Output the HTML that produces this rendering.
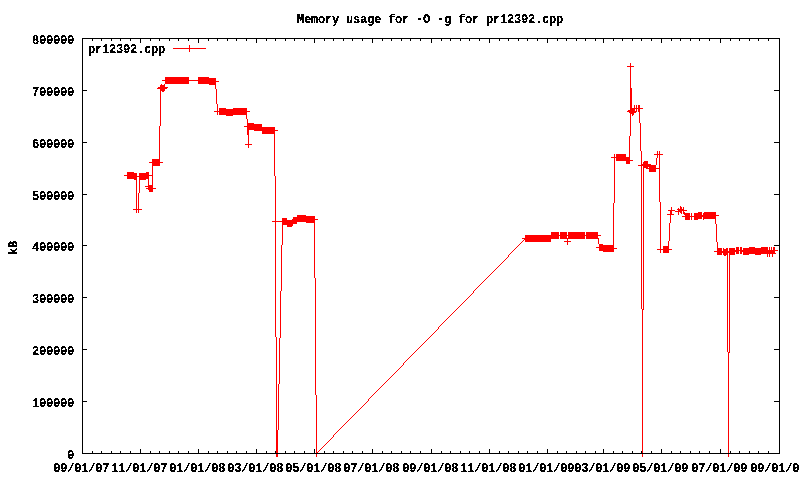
<!DOCTYPE html>
<html><head><meta charset="utf-8"><style>
html,body{margin:0;padding:0;background:#fff;}
svg{display:block;will-change:transform;}
text{font-family:"Liberation Mono",monospace;}
</style></head><body>
<svg width="800" height="480" viewBox="0 0 800 480" shape-rendering="crispEdges">
<rect width="800" height="480" fill="#fff"/>
<path d="M630 63h1v1h-1zM630 64h1v1h-1zM630 65h1v1h-1zM627 66h7v1h-7zM630 67h1v1h-1zM630 68h1v1h-1zM630 69h1v1h-1zM630 70h1v1h-1zM630 71h1v1h-1zM630 72h1v1h-1zM630 73h1v1h-1zM630 74h1v1h-1zM630 75h1v1h-1zM630 76h1v1h-1zM165 77h24v1h-24zM198 77h11v1h-11zM630 77h1v1h-1zM165 78h24v1h-24zM198 78h18v1h-18zM630 78h1v1h-1zM165 79h24v1h-24zM198 79h18v1h-18zM630 79h1v1h-1zM162 80h54v1h-54zM630 80h1v1h-1zM165 81h24v1h-24zM198 81h21v1h-21zM630 81h1v1h-1zM165 82h24v1h-24zM198 82h18v1h-18zM630 82h1v1h-1zM165 83h24v1h-24zM198 83h18v1h-18zM630 83h1v1h-1zM161 84h1v1h-1zM164 84h1v1h-1zM209 84h7v1h-7zM630 84h1v1h-1zM160 85h5v1h-5zM215 85h1v1h-1zM630 85h1v1h-1zM160 86h5v1h-5zM215 86h1v1h-1zM630 86h1v1h-1zM158 87h10v1h-10zM215 87h1v1h-1zM630 87h1v1h-1zM157 88h10v1h-10zM215 88h1v1h-1zM630 88h2v1h-2zM160 89h5v1h-5zM216 89h1v1h-1zM630 89h2v1h-2zM160 90h5v1h-5zM216 90h1v1h-1zM630 90h2v1h-2zM160 91h1v1h-1zM162 91h2v1h-2zM216 91h1v1h-1zM630 91h2v1h-2zM160 92h1v1h-1zM216 92h1v1h-1zM630 92h2v1h-2zM160 93h1v1h-1zM216 93h1v1h-1zM630 93h2v1h-2zM160 94h1v1h-1zM216 94h1v1h-1zM630 94h2v1h-2zM160 95h1v1h-1zM216 95h1v1h-1zM630 95h2v1h-2zM160 96h1v1h-1zM216 96h1v1h-1zM630 96h2v1h-2zM160 97h1v1h-1zM216 97h1v1h-1zM630 97h2v1h-2zM160 98h1v1h-1zM216 98h1v1h-1zM630 98h2v1h-2zM160 99h1v1h-1zM216 99h1v1h-1zM630 99h2v1h-2zM160 100h1v1h-1zM216 100h1v1h-1zM630 100h2v1h-2zM160 101h1v1h-1zM216 101h1v1h-1zM630 101h2v1h-2zM160 102h1v1h-1zM216 102h1v1h-1zM630 102h2v1h-2zM160 103h1v1h-1zM216 103h1v1h-1zM630 103h2v1h-2zM160 104h1v1h-1zM217 104h1v1h-1zM630 104h2v1h-2zM160 105h1v1h-1zM217 105h1v1h-1zM630 105h2v1h-2zM634 105h1v1h-1zM636 105h1v1h-1zM638 105h2v1h-2zM160 106h1v1h-1zM217 106h1v1h-1zM630 106h2v1h-2zM634 106h1v1h-1zM636 106h1v1h-1zM638 106h2v1h-2zM160 107h1v1h-1zM217 107h1v1h-1zM630 107h2v1h-2zM634 107h1v1h-1zM636 107h1v1h-1zM638 107h2v1h-2zM160 108h1v1h-1zM217 108h1v1h-1zM219 108h7v1h-7zM233 108h14v1h-14zM630 108h13v1h-13zM160 109h1v1h-1zM217 109h1v1h-1zM219 109h28v1h-28zM630 109h5v1h-5zM636 109h1v1h-1zM638 109h2v1h-2zM160 110h1v1h-1zM217 110h1v1h-1zM219 110h28v1h-28zM628 110h7v1h-7zM636 110h1v1h-1zM638 110h2v1h-2zM160 111h1v1h-1zM214 111h36v1h-36zM627 111h10v1h-10zM638 111h2v1h-2zM160 112h1v1h-1zM217 112h1v1h-1zM219 112h28v1h-28zM629 112h7v1h-7zM639 112h1v1h-1zM160 113h1v1h-1zM217 113h1v1h-1zM219 113h28v1h-28zM630 113h4v1h-4zM639 113h1v1h-1zM160 114h1v1h-1zM217 114h1v1h-1zM219 114h28v1h-28zM630 114h1v1h-1zM632 114h2v1h-2zM639 114h1v1h-1zM160 115h1v1h-1zM226 115h7v1h-7zM246 115h1v1h-1zM630 115h1v1h-1zM632 115h1v1h-1zM639 115h1v1h-1zM160 116h1v1h-1zM246 116h1v1h-1zM630 116h1v1h-1zM639 116h1v1h-1zM160 117h1v1h-1zM246 117h1v1h-1zM630 117h1v1h-1zM639 117h1v1h-1zM160 118h1v1h-1zM246 118h1v1h-1zM630 118h1v1h-1zM639 118h1v1h-1zM160 119h1v1h-1zM247 119h1v1h-1zM630 119h1v1h-1zM639 119h1v1h-1zM160 120h1v1h-1zM247 120h1v1h-1zM630 120h1v1h-1zM639 120h1v1h-1zM160 121h1v1h-1zM247 121h1v1h-1zM630 121h1v1h-1zM639 121h1v1h-1zM160 122h1v1h-1zM247 122h1v1h-1zM630 122h1v1h-1zM639 122h1v1h-1zM160 123h1v1h-1zM247 123h7v1h-7zM630 123h1v1h-1zM640 123h1v1h-1zM160 124h1v1h-1zM247 124h15v1h-15zM630 124h1v1h-1zM640 124h1v1h-1zM160 125h1v1h-1zM247 125h15v1h-15zM630 125h1v1h-1zM640 125h1v1h-1zM159 126h1v1h-1zM244 126h18v1h-18zM630 126h1v1h-1zM640 126h1v1h-1zM159 127h1v1h-1zM247 127h28v1h-28zM630 127h1v1h-1zM640 127h1v1h-1zM159 128h1v1h-1zM247 128h28v1h-28zM630 128h1v1h-1zM640 128h1v1h-1zM159 129h1v1h-1zM247 129h28v1h-28zM630 129h1v1h-1zM640 129h1v1h-1zM159 130h1v1h-1zM247 130h2v1h-2zM254 130h24v1h-24zM630 130h1v1h-1zM640 130h1v1h-1zM159 131h1v1h-1zM247 131h2v1h-2zM262 131h13v1h-13zM630 131h1v1h-1zM640 131h1v1h-1zM159 132h1v1h-1zM247 132h2v1h-2zM262 132h13v1h-13zM630 132h1v1h-1zM640 132h1v1h-1zM159 133h1v1h-1zM247 133h2v1h-2zM262 133h13v1h-13zM630 133h1v1h-1zM640 133h1v1h-1zM159 134h1v1h-1zM247 134h2v1h-2zM274 134h1v1h-1zM630 134h1v1h-1zM640 134h1v1h-1zM159 135h1v1h-1zM248 135h1v1h-1zM274 135h1v1h-1zM630 135h1v1h-1zM640 135h1v1h-1zM159 136h1v1h-1zM248 136h1v1h-1zM274 136h1v1h-1zM629 136h1v1h-1zM640 136h1v1h-1zM159 137h1v1h-1zM248 137h1v1h-1zM274 137h1v1h-1zM629 137h1v1h-1zM640 137h1v1h-1zM159 138h1v1h-1zM248 138h1v1h-1zM274 138h1v1h-1zM629 138h1v1h-1zM640 138h1v1h-1zM159 139h1v1h-1zM248 139h1v1h-1zM274 139h1v1h-1zM629 139h1v1h-1zM640 139h1v1h-1zM159 140h1v1h-1zM248 140h1v1h-1zM274 140h1v1h-1zM629 140h1v1h-1zM640 140h1v1h-1zM159 141h1v1h-1zM248 141h1v1h-1zM274 141h1v1h-1zM629 141h1v1h-1zM640 141h1v1h-1zM159 142h1v1h-1zM248 142h1v1h-1zM274 142h1v1h-1zM629 142h1v1h-1zM640 142h1v1h-1zM159 143h1v1h-1zM248 143h1v1h-1zM274 143h1v1h-1zM629 143h1v1h-1zM640 143h1v1h-1zM159 144h1v1h-1zM245 144h7v1h-7zM274 144h1v1h-1zM629 144h1v1h-1zM640 144h1v1h-1zM159 145h1v1h-1zM248 145h1v1h-1zM274 145h1v1h-1zM629 145h1v1h-1zM640 145h1v1h-1zM159 146h1v1h-1zM248 146h1v1h-1zM274 146h1v1h-1zM629 146h1v1h-1zM640 146h1v1h-1zM159 147h1v1h-1zM248 147h1v1h-1zM274 147h1v1h-1zM629 147h1v1h-1zM640 147h1v1h-1zM159 148h1v1h-1zM274 148h1v1h-1zM629 148h1v1h-1zM640 148h1v1h-1zM159 149h1v1h-1zM274 149h1v1h-1zM629 149h1v1h-1zM640 149h1v1h-1zM159 150h1v1h-1zM274 150h1v1h-1zM629 150h1v1h-1zM640 150h1v1h-1zM159 151h1v1h-1zM274 151h1v1h-1zM629 151h1v1h-1zM641 151h1v1h-1zM657 151h1v1h-1zM659 151h1v1h-1zM159 152h1v1h-1zM274 152h1v1h-1zM629 152h1v1h-1zM641 152h1v1h-1zM657 152h1v1h-1zM659 152h1v1h-1zM159 153h1v1h-1zM274 153h1v1h-1zM629 153h1v1h-1zM641 153h1v1h-1zM657 153h1v1h-1zM659 153h1v1h-1zM159 154h1v1h-1zM274 154h1v1h-1zM614 154h1v1h-1zM616 154h10v1h-10zM629 154h1v1h-1zM641 154h1v1h-1zM654 154h9v1h-9zM159 155h1v1h-1zM274 155h1v1h-1zM614 155h1v1h-1zM616 155h10v1h-10zM629 155h1v1h-1zM641 155h1v1h-1zM657 155h1v1h-1zM659 155h1v1h-1zM159 156h1v1h-1zM274 156h1v1h-1zM614 156h1v1h-1zM616 156h10v1h-10zM629 156h1v1h-1zM641 156h1v1h-1zM657 156h1v1h-1zM659 156h1v1h-1zM159 157h1v1h-1zM274 157h1v1h-1zM611 157h19v1h-19zM641 157h1v1h-1zM657 157h1v1h-1zM659 157h1v1h-1zM159 158h1v1h-1zM274 158h1v1h-1zM614 158h1v1h-1zM616 158h14v1h-14zM641 158h1v1h-1zM656 158h1v1h-1zM659 158h1v1h-1zM152 159h8v1h-8zM274 159h1v1h-1zM614 159h1v1h-1zM616 159h14v1h-14zM641 159h1v1h-1zM656 159h1v1h-1zM659 159h1v1h-1zM152 160h8v1h-8zM274 160h1v1h-1zM614 160h1v1h-1zM616 160h17v1h-17zM641 160h1v1h-1zM656 160h1v1h-1zM659 160h1v1h-1zM152 161h8v1h-8zM274 161h1v1h-1zM614 161h1v1h-1zM626 161h4v1h-4zM641 161h1v1h-1zM644 161h4v1h-4zM656 161h1v1h-1zM659 161h1v1h-1zM149 162h14v1h-14zM274 162h1v1h-1zM614 162h1v1h-1zM626 162h4v1h-4zM641 162h1v1h-1zM643 162h5v1h-5zM656 162h1v1h-1zM659 162h1v1h-1zM152 163h8v1h-8zM274 163h1v1h-1zM614 163h1v1h-1zM626 163h4v1h-4zM641 163h1v1h-1zM643 163h5v1h-5zM656 163h1v1h-1zM659 163h1v1h-1zM152 164h8v1h-8zM274 164h1v1h-1zM614 164h1v1h-1zM641 164h10v1h-10zM656 164h1v1h-1zM659 164h1v1h-1zM152 165h8v1h-8zM274 165h1v1h-1zM614 165h1v1h-1zM638 165h18v1h-18zM659 165h1v1h-1zM152 166h1v1h-1zM274 166h1v1h-1zM614 166h1v1h-1zM641 166h1v1h-1zM643 166h13v1h-13zM659 166h1v1h-1zM152 167h1v1h-1zM274 167h1v1h-1zM614 167h1v1h-1zM641 167h1v1h-1zM643 167h5v1h-5zM649 167h7v1h-7zM659 167h1v1h-1zM152 168h1v1h-1zM274 168h1v1h-1zM614 168h1v1h-1zM641 168h1v1h-1zM643 168h1v1h-1zM646 168h14v1h-14zM152 169h1v1h-1zM274 169h1v1h-1zM614 169h1v1h-1zM641 169h1v1h-1zM643 169h1v1h-1zM649 169h7v1h-7zM659 169h1v1h-1zM152 170h1v1h-1zM274 170h1v1h-1zM614 170h1v1h-1zM641 170h1v1h-1zM643 170h1v1h-1zM649 170h7v1h-7zM659 170h1v1h-1zM152 171h1v1h-1zM274 171h1v1h-1zM614 171h1v1h-1zM641 171h1v1h-1zM643 171h1v1h-1zM649 171h7v1h-7zM659 171h1v1h-1zM127 172h7v1h-7zM146 172h3v1h-3zM152 172h1v1h-1zM274 172h1v1h-1zM614 172h1v1h-1zM641 172h1v1h-1zM643 172h1v1h-1zM659 172h1v1h-1zM127 173h10v1h-10zM139 173h10v1h-10zM152 173h1v1h-1zM274 173h1v1h-1zM614 173h1v1h-1zM641 173h1v1h-1zM643 173h1v1h-1zM659 173h1v1h-1zM127 174h10v1h-10zM139 174h10v1h-10zM152 174h1v1h-1zM274 174h1v1h-1zM614 174h1v1h-1zM641 174h1v1h-1zM643 174h1v1h-1zM659 174h1v1h-1zM124 175h13v1h-13zM139 175h14v1h-14zM274 175h1v1h-1zM614 175h1v1h-1zM641 175h1v1h-1zM643 175h1v1h-1zM659 175h1v1h-1zM127 176h22v1h-22zM152 176h1v1h-1zM275 176h1v1h-1zM614 176h1v1h-1zM641 176h1v1h-1zM643 176h1v1h-1zM659 176h1v1h-1zM127 177h10v1h-10zM139 177h10v1h-10zM152 177h1v1h-1zM275 177h1v1h-1zM614 177h1v1h-1zM641 177h1v1h-1zM643 177h1v1h-1zM659 177h1v1h-1zM127 178h10v1h-10zM139 178h10v1h-10zM152 178h1v1h-1zM275 178h1v1h-1zM614 178h1v1h-1zM641 178h1v1h-1zM643 178h1v1h-1zM659 178h1v1h-1zM134 179h3v1h-3zM139 179h7v1h-7zM148 179h1v1h-1zM152 179h1v1h-1zM275 179h1v1h-1zM614 179h1v1h-1zM641 179h1v1h-1zM643 179h1v1h-1zM659 179h1v1h-1zM136 180h1v1h-1zM139 180h1v1h-1zM148 180h1v1h-1zM152 180h1v1h-1zM275 180h1v1h-1zM614 180h1v1h-1zM641 180h1v1h-1zM643 180h1v1h-1zM659 180h1v1h-1zM136 181h1v1h-1zM139 181h1v1h-1zM148 181h1v1h-1zM152 181h1v1h-1zM275 181h1v1h-1zM614 181h1v1h-1zM641 181h1v1h-1zM643 181h1v1h-1zM659 181h1v1h-1zM136 182h1v1h-1zM139 182h1v1h-1zM148 182h1v1h-1zM152 182h1v1h-1zM275 182h1v1h-1zM614 182h1v1h-1zM641 182h1v1h-1zM643 182h1v1h-1zM659 182h1v1h-1zM136 183h1v1h-1zM139 183h1v1h-1zM148 183h1v1h-1zM152 183h1v1h-1zM275 183h1v1h-1zM614 183h1v1h-1zM641 183h1v1h-1zM643 183h1v1h-1zM659 183h1v1h-1zM136 184h1v1h-1zM139 184h1v1h-1zM148 184h1v1h-1zM152 184h1v1h-1zM275 184h1v1h-1zM614 184h1v1h-1zM641 184h1v1h-1zM643 184h1v1h-1zM659 184h1v1h-1zM136 185h1v1h-1zM139 185h1v1h-1zM148 185h5v1h-5zM275 185h1v1h-1zM614 185h1v1h-1zM641 185h1v1h-1zM643 185h1v1h-1zM659 185h1v1h-1zM136 186h1v1h-1zM139 186h1v1h-1zM145 186h8v1h-8zM275 186h1v1h-1zM614 186h1v1h-1zM641 186h1v1h-1zM643 186h1v1h-1zM659 186h1v1h-1zM136 187h1v1h-1zM139 187h1v1h-1zM148 187h5v1h-5zM275 187h1v1h-1zM614 187h1v1h-1zM641 187h1v1h-1zM643 187h1v1h-1zM659 187h1v1h-1zM136 188h1v1h-1zM139 188h1v1h-1zM146 188h10v1h-10zM275 188h1v1h-1zM614 188h1v1h-1zM641 188h1v1h-1zM643 188h1v1h-1zM659 188h1v1h-1zM136 189h1v1h-1zM139 189h1v1h-1zM148 189h5v1h-5zM275 189h1v1h-1zM614 189h1v1h-1zM641 189h1v1h-1zM643 189h1v1h-1zM659 189h1v1h-1zM136 190h1v1h-1zM139 190h1v1h-1zM149 190h4v1h-4zM275 190h1v1h-1zM614 190h1v1h-1zM641 190h1v1h-1zM643 190h1v1h-1zM659 190h1v1h-1zM136 191h1v1h-1zM139 191h1v1h-1zM149 191h4v1h-4zM275 191h1v1h-1zM614 191h1v1h-1zM641 191h1v1h-1zM643 191h1v1h-1zM659 191h1v1h-1zM136 192h1v1h-1zM139 192h1v1h-1zM275 192h1v1h-1zM614 192h1v1h-1zM641 192h1v1h-1zM643 192h1v1h-1zM659 192h1v1h-1zM136 193h1v1h-1zM138 193h1v1h-1zM275 193h1v1h-1zM614 193h1v1h-1zM641 193h1v1h-1zM643 193h1v1h-1zM659 193h1v1h-1zM136 194h1v1h-1zM138 194h1v1h-1zM275 194h1v1h-1zM614 194h1v1h-1zM641 194h1v1h-1zM643 194h1v1h-1zM659 194h1v1h-1zM136 195h1v1h-1zM138 195h1v1h-1zM275 195h1v1h-1zM614 195h1v1h-1zM641 195h1v1h-1zM643 195h1v1h-1zM659 195h1v1h-1zM136 196h1v1h-1zM138 196h1v1h-1zM275 196h1v1h-1zM614 196h1v1h-1zM641 196h1v1h-1zM643 196h1v1h-1zM659 196h1v1h-1zM136 197h1v1h-1zM138 197h1v1h-1zM275 197h1v1h-1zM614 197h1v1h-1zM641 197h1v1h-1zM643 197h1v1h-1zM659 197h1v1h-1zM136 198h1v1h-1zM138 198h1v1h-1zM275 198h1v1h-1zM614 198h1v1h-1zM641 198h1v1h-1zM643 198h1v1h-1zM659 198h1v1h-1zM136 199h1v1h-1zM138 199h1v1h-1zM275 199h1v1h-1zM614 199h1v1h-1zM641 199h1v1h-1zM643 199h1v1h-1zM659 199h1v1h-1zM136 200h1v1h-1zM138 200h1v1h-1zM275 200h1v1h-1zM614 200h1v1h-1zM641 200h1v1h-1zM643 200h1v1h-1zM659 200h1v1h-1zM136 201h1v1h-1zM138 201h1v1h-1zM275 201h1v1h-1zM614 201h1v1h-1zM641 201h1v1h-1zM643 201h1v1h-1zM659 201h1v1h-1zM136 202h1v1h-1zM138 202h1v1h-1zM275 202h1v1h-1zM614 202h1v1h-1zM641 202h1v1h-1zM643 202h1v1h-1zM660 202h1v1h-1zM136 203h1v1h-1zM138 203h1v1h-1zM275 203h1v1h-1zM613 203h1v1h-1zM641 203h1v1h-1zM643 203h1v1h-1zM660 203h1v1h-1zM136 204h1v1h-1zM138 204h1v1h-1zM275 204h1v1h-1zM613 204h1v1h-1zM641 204h1v1h-1zM643 204h1v1h-1zM660 204h1v1h-1zM136 205h1v1h-1zM138 205h1v1h-1zM275 205h1v1h-1zM613 205h1v1h-1zM641 205h1v1h-1zM643 205h1v1h-1zM660 205h1v1h-1zM136 206h1v1h-1zM138 206h1v1h-1zM275 206h1v1h-1zM613 206h1v1h-1zM641 206h1v1h-1zM643 206h1v1h-1zM660 206h1v1h-1zM680 206h1v1h-1zM136 207h1v1h-1zM138 207h1v1h-1zM275 207h1v1h-1zM613 207h1v1h-1zM641 207h1v1h-1zM643 207h1v1h-1zM660 207h1v1h-1zM671 207h1v1h-1zM680 207h2v1h-2zM683 207h1v1h-1zM136 208h1v1h-1zM138 208h1v1h-1zM275 208h1v1h-1zM613 208h1v1h-1zM641 208h1v1h-1zM643 208h1v1h-1zM660 208h1v1h-1zM671 208h1v1h-1zM678 208h1v1h-1zM680 208h2v1h-2zM683 208h1v1h-1zM133 209h9v1h-9zM275 209h1v1h-1zM613 209h1v1h-1zM641 209h1v1h-1zM643 209h1v1h-1zM660 209h1v1h-1zM671 209h1v1h-1zM677 209h7v1h-7zM136 210h1v1h-1zM138 210h1v1h-1zM275 210h1v1h-1zM613 210h1v1h-1zM641 210h1v1h-1zM643 210h1v1h-1zM660 210h1v1h-1zM668 210h7v1h-7zM678 210h9v1h-9zM136 211h1v1h-1zM138 211h1v1h-1zM275 211h1v1h-1zM613 211h1v1h-1zM641 211h1v1h-1zM643 211h1v1h-1zM660 211h1v1h-1zM670 211h2v1h-2zM675 211h7v1h-7zM683 211h1v1h-1zM136 212h1v1h-1zM138 212h1v1h-1zM275 212h1v1h-1zM613 212h1v1h-1zM641 212h1v1h-1zM643 212h1v1h-1zM660 212h1v1h-1zM670 212h2v1h-2zM678 212h1v1h-1zM680 212h2v1h-2zM683 212h2v1h-2zM698 212h4v1h-4zM704 212h12v1h-12zM275 213h1v1h-1zM613 213h1v1h-1zM641 213h1v1h-1zM643 213h1v1h-1zM660 213h1v1h-1zM670 213h2v1h-2zM678 213h1v1h-1zM681 213h1v1h-1zM683 213h7v1h-7zM691 213h1v1h-1zM694 213h8v1h-8zM703 213h13v1h-13zM275 214h1v1h-1zM613 214h1v1h-1zM641 214h1v1h-1zM643 214h1v1h-1zM660 214h1v1h-1zM667 214h7v1h-7zM678 214h1v1h-1zM684 214h6v1h-6zM691 214h1v1h-1zM694 214h8v1h-8zM703 214h13v1h-13zM275 215h1v1h-1zM297 215h9v1h-9zM613 215h1v1h-1zM641 215h1v1h-1zM643 215h1v1h-1zM660 215h1v1h-1zM670 215h1v1h-1zM685 215h5v1h-5zM691 215h1v1h-1zM694 215h25v1h-25zM275 216h1v1h-1zM297 216h18v1h-18zM613 216h1v1h-1zM641 216h1v1h-1zM643 216h1v1h-1zM660 216h1v1h-1zM670 216h1v1h-1zM682 216h34v1h-34zM275 217h1v1h-1zM293 217h22v1h-22zM613 217h1v1h-1zM641 217h1v1h-1zM643 217h1v1h-1zM660 217h1v1h-1zM670 217h1v1h-1zM685 217h5v1h-5zM691 217h1v1h-1zM694 217h8v1h-8zM703 217h13v1h-13zM275 218h1v1h-1zM282 218h5v1h-5zM293 218h22v1h-22zM613 218h1v1h-1zM641 218h1v1h-1zM643 218h1v1h-1zM660 218h1v1h-1zM670 218h1v1h-1zM685 218h5v1h-5zM691 218h1v1h-1zM694 218h8v1h-8zM703 218h13v1h-13zM275 219h1v1h-1zM282 219h5v1h-5zM292 219h26v1h-26zM613 219h1v1h-1zM641 219h1v1h-1zM643 219h1v1h-1zM660 219h1v1h-1zM670 219h1v1h-1zM685 219h5v1h-5zM691 219h1v1h-1zM694 219h4v1h-4zM703 219h1v1h-1zM715 219h1v1h-1zM275 220h1v1h-1zM282 220h33v1h-33zM613 220h1v1h-1zM641 220h1v1h-1zM643 220h1v1h-1zM660 220h1v1h-1zM670 220h1v1h-1zM715 220h1v1h-1zM272 221h43v1h-43zM613 221h1v1h-1zM641 221h1v1h-1zM643 221h1v1h-1zM660 221h1v1h-1zM670 221h1v1h-1zM715 221h1v1h-1zM275 222h1v1h-1zM282 222h15v1h-15zM306 222h9v1h-9zM613 222h1v1h-1zM641 222h1v1h-1zM643 222h1v1h-1zM660 222h1v1h-1zM670 222h1v1h-1zM715 222h1v1h-1zM275 223h1v1h-1zM282 223h15v1h-15zM314 223h1v1h-1zM613 223h1v1h-1zM641 223h1v1h-1zM643 223h1v1h-1zM660 223h1v1h-1zM669 223h1v1h-1zM715 223h1v1h-1zM275 224h1v1h-1zM282 224h11v1h-11zM314 224h1v1h-1zM613 224h1v1h-1zM641 224h1v1h-1zM643 224h1v1h-1zM660 224h1v1h-1zM669 224h1v1h-1zM716 224h1v1h-1zM275 225h1v1h-1zM282 225h1v1h-1zM287 225h6v1h-6zM314 225h1v1h-1zM613 225h1v1h-1zM641 225h1v1h-1zM643 225h1v1h-1zM660 225h1v1h-1zM669 225h1v1h-1zM716 225h1v1h-1zM275 226h1v1h-1zM282 226h1v1h-1zM287 226h5v1h-5zM314 226h1v1h-1zM613 226h1v1h-1zM641 226h1v1h-1zM643 226h1v1h-1zM660 226h1v1h-1zM669 226h1v1h-1zM716 226h1v1h-1zM275 227h1v1h-1zM282 227h1v1h-1zM314 227h1v1h-1zM613 227h1v1h-1zM641 227h1v1h-1zM643 227h1v1h-1zM660 227h1v1h-1zM669 227h1v1h-1zM716 227h1v1h-1zM275 228h1v1h-1zM282 228h1v1h-1zM314 228h1v1h-1zM613 228h1v1h-1zM641 228h1v1h-1zM643 228h1v1h-1zM660 228h1v1h-1zM669 228h1v1h-1zM716 228h1v1h-1zM275 229h1v1h-1zM282 229h1v1h-1zM314 229h1v1h-1zM613 229h1v1h-1zM641 229h1v1h-1zM643 229h1v1h-1zM660 229h1v1h-1zM669 229h1v1h-1zM716 229h1v1h-1zM275 230h1v1h-1zM282 230h1v1h-1zM314 230h1v1h-1zM613 230h1v1h-1zM641 230h1v1h-1zM643 230h1v1h-1zM660 230h1v1h-1zM669 230h1v1h-1zM716 230h1v1h-1zM275 231h1v1h-1zM282 231h1v1h-1zM314 231h1v1h-1zM613 231h1v1h-1zM641 231h1v1h-1zM643 231h1v1h-1zM660 231h1v1h-1zM669 231h1v1h-1zM716 231h1v1h-1zM275 232h1v1h-1zM282 232h1v1h-1zM314 232h1v1h-1zM551 232h8v1h-8zM560 232h7v1h-7zM568 232h17v1h-17zM586 232h12v1h-12zM613 232h1v1h-1zM641 232h1v1h-1zM643 232h1v1h-1zM660 232h1v1h-1zM669 232h1v1h-1zM716 232h1v1h-1zM275 233h1v1h-1zM282 233h1v1h-1zM314 233h1v1h-1zM551 233h8v1h-8zM560 233h7v1h-7zM568 233h17v1h-17zM586 233h12v1h-12zM613 233h1v1h-1zM641 233h1v1h-1zM643 233h1v1h-1zM660 233h1v1h-1zM669 233h1v1h-1zM716 233h1v1h-1zM275 234h1v1h-1zM282 234h1v1h-1zM314 234h1v1h-1zM551 234h8v1h-8zM560 234h7v1h-7zM568 234h17v1h-17zM586 234h12v1h-12zM613 234h1v1h-1zM641 234h1v1h-1zM643 234h1v1h-1zM660 234h1v1h-1zM669 234h1v1h-1zM716 234h1v1h-1zM275 235h1v1h-1zM282 235h1v1h-1zM314 235h1v1h-1zM525 235h76v1h-76zM613 235h1v1h-1zM641 235h1v1h-1zM643 235h1v1h-1zM660 235h1v1h-1zM669 235h1v1h-1zM716 235h1v1h-1zM275 236h1v1h-1zM282 236h1v1h-1zM314 236h1v1h-1zM525 236h34v1h-34zM560 236h7v1h-7zM568 236h17v1h-17zM586 236h12v1h-12zM613 236h1v1h-1zM641 236h1v1h-1zM643 236h1v1h-1zM660 236h1v1h-1zM669 236h1v1h-1zM716 236h1v1h-1zM275 237h1v1h-1zM282 237h1v1h-1zM314 237h1v1h-1zM525 237h34v1h-34zM560 237h7v1h-7zM568 237h17v1h-17zM586 237h12v1h-12zM613 237h1v1h-1zM641 237h1v1h-1zM643 237h1v1h-1zM660 237h1v1h-1zM669 237h1v1h-1zM716 237h1v1h-1zM275 238h1v1h-1zM282 238h1v1h-1zM314 238h1v1h-1zM522 238h37v1h-37zM560 238h25v1h-25zM586 238h13v1h-13zM613 238h1v1h-1zM641 238h1v1h-1zM643 238h1v1h-1zM660 238h1v1h-1zM669 238h1v1h-1zM716 238h1v1h-1zM275 239h1v1h-1zM282 239h1v1h-1zM314 239h1v1h-1zM524 239h27v1h-27zM567 239h1v1h-1zM598 239h1v1h-1zM613 239h1v1h-1zM641 239h1v1h-1zM643 239h1v1h-1zM660 239h1v1h-1zM669 239h1v1h-1zM716 239h1v1h-1zM275 240h1v1h-1zM282 240h1v1h-1zM314 240h1v1h-1zM523 240h1v1h-1zM525 240h26v1h-26zM567 240h1v1h-1zM598 240h1v1h-1zM613 240h1v1h-1zM641 240h1v1h-1zM643 240h1v1h-1zM660 240h1v1h-1zM669 240h1v1h-1zM716 240h1v1h-1zM275 241h1v1h-1zM282 241h1v1h-1zM314 241h1v1h-1zM522 241h1v1h-1zM525 241h26v1h-26zM564 241h7v1h-7zM598 241h1v1h-1zM613 241h1v1h-1zM641 241h1v1h-1zM643 241h1v1h-1zM660 241h1v1h-1zM668 241h1v1h-1zM716 241h1v1h-1zM275 242h1v1h-1zM282 242h1v1h-1zM314 242h1v1h-1zM521 242h1v1h-1zM567 242h1v1h-1zM598 242h1v1h-1zM613 242h1v1h-1zM641 242h1v1h-1zM643 242h1v1h-1zM660 242h1v1h-1zM668 242h1v1h-1zM717 242h1v1h-1zM275 243h1v1h-1zM282 243h1v1h-1zM314 243h1v1h-1zM520 243h1v1h-1zM567 243h1v1h-1zM598 243h1v1h-1zM613 243h1v1h-1zM641 243h1v1h-1zM643 243h1v1h-1zM660 243h1v1h-1zM668 243h1v1h-1zM717 243h1v1h-1zM275 244h1v1h-1zM282 244h1v1h-1zM314 244h1v1h-1zM519 244h1v1h-1zM567 244h1v1h-1zM599 244h4v1h-4zM613 244h1v1h-1zM641 244h1v1h-1zM643 244h1v1h-1zM660 244h1v1h-1zM668 244h1v1h-1zM717 244h1v1h-1zM275 245h1v1h-1zM281 245h1v1h-1zM314 245h1v1h-1zM518 245h1v1h-1zM599 245h15v1h-15zM641 245h1v1h-1zM643 245h1v1h-1zM660 245h1v1h-1zM668 245h1v1h-1zM717 245h1v1h-1zM275 246h1v1h-1zM281 246h1v1h-1zM314 246h1v1h-1zM517 246h1v1h-1zM599 246h15v1h-15zM641 246h1v1h-1zM643 246h1v1h-1zM660 246h1v1h-1zM663 246h6v1h-6zM717 246h1v1h-1zM275 247h1v1h-1zM281 247h1v1h-1zM314 247h1v1h-1zM516 247h1v1h-1zM596 247h18v1h-18zM641 247h1v1h-1zM643 247h1v1h-1zM660 247h1v1h-1zM663 247h6v1h-6zM717 247h1v1h-1zM736 247h3v1h-3zM740 247h2v1h-2zM749 247h6v1h-6zM761 247h7v1h-7zM769 247h1v1h-1zM771 247h1v1h-1zM773 247h2v1h-2zM275 248h1v1h-1zM281 248h1v1h-1zM314 248h1v1h-1zM515 248h1v1h-1zM599 248h18v1h-18zM641 248h1v1h-1zM643 248h1v1h-1zM660 248h1v1h-1zM663 248h6v1h-6zM717 248h5v1h-5zM723 248h1v1h-1zM726 248h2v1h-2zM729 248h6v1h-6zM736 248h3v1h-3zM740 248h2v1h-2zM743 248h25v1h-25zM769 248h1v1h-1zM771 248h1v1h-1zM773 248h2v1h-2zM275 249h1v1h-1zM281 249h1v1h-1zM314 249h1v1h-1zM514 249h1v1h-1zM599 249h15v1h-15zM641 249h1v1h-1zM643 249h1v1h-1zM657 249h15v1h-15zM717 249h5v1h-5zM723 249h5v1h-5zM729 249h6v1h-6zM736 249h3v1h-3zM740 249h2v1h-2zM743 249h25v1h-25zM769 249h1v1h-1zM771 249h1v1h-1zM773 249h2v1h-2zM275 250h1v1h-1zM281 250h1v1h-1zM314 250h1v1h-1zM513 250h1v1h-1zM599 250h15v1h-15zM641 250h1v1h-1zM643 250h1v1h-1zM660 250h1v1h-1zM663 250h6v1h-6zM717 250h5v1h-5zM723 250h5v1h-5zM729 250h49v1h-49zM275 251h1v1h-1zM281 251h1v1h-1zM314 251h1v1h-1zM512 251h1v1h-1zM603 251h11v1h-11zM641 251h1v1h-1zM643 251h1v1h-1zM660 251h1v1h-1zM663 251h6v1h-6zM714 251h25v1h-25zM740 251h35v1h-35zM275 252h1v1h-1zM281 252h1v1h-1zM314 252h1v1h-1zM511 252h1v1h-1zM641 252h1v1h-1zM643 252h1v1h-1zM660 252h1v1h-1zM663 252h6v1h-6zM717 252h18v1h-18zM736 252h3v1h-3zM740 252h2v1h-2zM743 252h32v1h-32zM275 253h1v1h-1zM281 253h1v1h-1zM314 253h1v1h-1zM510 253h1v1h-1zM641 253h1v1h-1zM643 253h1v1h-1zM717 253h5v1h-5zM723 253h5v1h-5zM729 253h6v1h-6zM736 253h3v1h-3zM740 253h2v1h-2zM743 253h33v1h-33zM275 254h1v1h-1zM281 254h1v1h-1zM314 254h1v1h-1zM509 254h1v1h-1zM641 254h1v1h-1zM643 254h1v1h-1zM717 254h5v1h-5zM723 254h5v1h-5zM729 254h6v1h-6zM743 254h6v1h-6zM755 254h6v1h-6zM767 254h1v1h-1zM769 254h1v1h-1zM772 254h1v1h-1zM275 255h1v1h-1zM281 255h1v1h-1zM314 255h1v1h-1zM508 255h1v1h-1zM641 255h1v1h-1zM643 255h1v1h-1zM724 255h2v1h-2zM727 255h1v1h-1zM729 255h1v1h-1zM767 255h1v1h-1zM769 255h1v1h-1zM772 255h1v1h-1zM275 256h1v1h-1zM281 256h1v1h-1zM314 256h1v1h-1zM508 256h1v1h-1zM641 256h1v1h-1zM643 256h1v1h-1zM727 256h1v1h-1zM729 256h1v1h-1zM767 256h1v1h-1zM769 256h1v1h-1zM772 256h1v1h-1zM275 257h1v1h-1zM281 257h1v1h-1zM314 257h1v1h-1zM507 257h1v1h-1zM641 257h1v1h-1zM643 257h1v1h-1zM727 257h1v1h-1zM729 257h1v1h-1zM275 258h1v1h-1zM281 258h1v1h-1zM314 258h1v1h-1zM506 258h1v1h-1zM641 258h1v1h-1zM643 258h1v1h-1zM727 258h1v1h-1zM729 258h1v1h-1zM275 259h1v1h-1zM281 259h1v1h-1zM314 259h1v1h-1zM505 259h1v1h-1zM641 259h1v1h-1zM643 259h1v1h-1zM727 259h1v1h-1zM729 259h1v1h-1zM275 260h1v1h-1zM281 260h1v1h-1zM314 260h1v1h-1zM504 260h1v1h-1zM641 260h1v1h-1zM643 260h1v1h-1zM727 260h1v1h-1zM729 260h1v1h-1zM275 261h1v1h-1zM281 261h1v1h-1zM314 261h1v1h-1zM503 261h1v1h-1zM641 261h1v1h-1zM643 261h1v1h-1zM727 261h1v1h-1zM729 261h1v1h-1zM275 262h1v1h-1zM281 262h1v1h-1zM314 262h1v1h-1zM502 262h1v1h-1zM641 262h1v1h-1zM643 262h1v1h-1zM727 262h1v1h-1zM729 262h1v1h-1zM275 263h1v1h-1zM281 263h1v1h-1zM314 263h1v1h-1zM501 263h1v1h-1zM641 263h1v1h-1zM643 263h1v1h-1zM727 263h1v1h-1zM729 263h1v1h-1zM275 264h1v1h-1zM281 264h1v1h-1zM314 264h1v1h-1zM500 264h1v1h-1zM641 264h1v1h-1zM643 264h1v1h-1zM727 264h1v1h-1zM729 264h1v1h-1zM275 265h1v1h-1zM281 265h1v1h-1zM314 265h1v1h-1zM499 265h1v1h-1zM641 265h1v1h-1zM643 265h1v1h-1zM727 265h1v1h-1zM729 265h1v1h-1zM275 266h1v1h-1zM281 266h1v1h-1zM314 266h1v1h-1zM498 266h1v1h-1zM641 266h1v1h-1zM643 266h1v1h-1zM727 266h1v1h-1zM729 266h1v1h-1zM275 267h1v1h-1zM281 267h1v1h-1zM314 267h1v1h-1zM497 267h1v1h-1zM641 267h1v1h-1zM643 267h1v1h-1zM727 267h1v1h-1zM729 267h1v1h-1zM275 268h1v1h-1zM281 268h1v1h-1zM314 268h1v1h-1zM496 268h1v1h-1zM641 268h1v1h-1zM643 268h1v1h-1zM727 268h1v1h-1zM729 268h1v1h-1zM275 269h1v1h-1zM281 269h1v1h-1zM314 269h1v1h-1zM495 269h1v1h-1zM641 269h1v1h-1zM643 269h1v1h-1zM727 269h1v1h-1zM729 269h1v1h-1zM275 270h1v1h-1zM281 270h1v1h-1zM314 270h1v1h-1zM494 270h1v1h-1zM641 270h1v1h-1zM643 270h1v1h-1zM727 270h1v1h-1zM729 270h1v1h-1zM275 271h1v1h-1zM281 271h1v1h-1zM314 271h1v1h-1zM493 271h1v1h-1zM641 271h1v1h-1zM643 271h1v1h-1zM727 271h1v1h-1zM729 271h1v1h-1zM275 272h1v1h-1zM281 272h1v1h-1zM314 272h1v1h-1zM492 272h1v1h-1zM641 272h1v1h-1zM643 272h1v1h-1zM727 272h1v1h-1zM729 272h1v1h-1zM275 273h1v1h-1zM281 273h1v1h-1zM314 273h1v1h-1zM491 273h1v1h-1zM641 273h1v1h-1zM643 273h1v1h-1zM727 273h1v1h-1zM729 273h1v1h-1zM275 274h1v1h-1zM281 274h1v1h-1zM314 274h1v1h-1zM490 274h1v1h-1zM641 274h1v1h-1zM643 274h1v1h-1zM727 274h1v1h-1zM729 274h1v1h-1zM275 275h1v1h-1zM281 275h1v1h-1zM314 275h1v1h-1zM489 275h1v1h-1zM641 275h1v1h-1zM643 275h1v1h-1zM727 275h1v1h-1zM729 275h1v1h-1zM275 276h1v1h-1zM281 276h1v1h-1zM314 276h1v1h-1zM488 276h1v1h-1zM641 276h1v1h-1zM643 276h1v1h-1zM727 276h1v1h-1zM729 276h1v1h-1zM275 277h1v1h-1zM281 277h1v1h-1zM314 277h1v1h-1zM487 277h1v1h-1zM641 277h1v1h-1zM643 277h1v1h-1zM727 277h1v1h-1zM729 277h1v1h-1zM275 278h1v1h-1zM281 278h1v1h-1zM315 278h1v1h-1zM486 278h1v1h-1zM641 278h1v1h-1zM643 278h1v1h-1zM727 278h1v1h-1zM729 278h1v1h-1zM275 279h1v1h-1zM281 279h1v1h-1zM315 279h1v1h-1zM485 279h1v1h-1zM641 279h1v1h-1zM643 279h1v1h-1zM727 279h1v1h-1zM729 279h1v1h-1zM275 280h1v1h-1zM281 280h1v1h-1zM315 280h1v1h-1zM484 280h1v1h-1zM641 280h1v1h-1zM643 280h1v1h-1zM727 280h1v1h-1zM729 280h1v1h-1zM275 281h1v1h-1zM281 281h1v1h-1zM315 281h1v1h-1zM483 281h1v1h-1zM641 281h1v1h-1zM643 281h1v1h-1zM727 281h1v1h-1zM729 281h1v1h-1zM275 282h1v1h-1zM281 282h1v1h-1zM315 282h1v1h-1zM482 282h1v1h-1zM641 282h1v1h-1zM643 282h1v1h-1zM727 282h1v1h-1zM729 282h1v1h-1zM275 283h1v1h-1zM281 283h1v1h-1zM315 283h1v1h-1zM481 283h1v1h-1zM641 283h1v1h-1zM643 283h1v1h-1zM727 283h1v1h-1zM729 283h1v1h-1zM275 284h1v1h-1zM281 284h1v1h-1zM315 284h1v1h-1zM480 284h1v1h-1zM641 284h1v1h-1zM643 284h1v1h-1zM727 284h1v1h-1zM729 284h1v1h-1zM275 285h1v1h-1zM281 285h1v1h-1zM315 285h1v1h-1zM479 285h1v1h-1zM641 285h1v1h-1zM643 285h1v1h-1zM727 285h1v1h-1zM729 285h1v1h-1zM275 286h1v1h-1zM281 286h1v1h-1zM315 286h1v1h-1zM478 286h1v1h-1zM641 286h1v1h-1zM643 286h1v1h-1zM727 286h1v1h-1zM729 286h1v1h-1zM275 287h1v1h-1zM281 287h1v1h-1zM315 287h1v1h-1zM477 287h1v1h-1zM641 287h1v1h-1zM643 287h1v1h-1zM727 287h1v1h-1zM729 287h1v1h-1zM275 288h1v1h-1zM281 288h1v1h-1zM315 288h1v1h-1zM476 288h1v1h-1zM641 288h1v1h-1zM643 288h1v1h-1zM727 288h1v1h-1zM729 288h1v1h-1zM275 289h1v1h-1zM281 289h1v1h-1zM315 289h1v1h-1zM475 289h1v1h-1zM641 289h1v1h-1zM643 289h1v1h-1zM727 289h1v1h-1zM729 289h1v1h-1zM275 290h1v1h-1zM281 290h1v1h-1zM315 290h1v1h-1zM474 290h1v1h-1zM641 290h1v1h-1zM643 290h1v1h-1zM727 290h1v1h-1zM729 290h1v1h-1zM275 291h1v1h-1zM280 291h1v1h-1zM315 291h1v1h-1zM473 291h1v1h-1zM641 291h1v1h-1zM643 291h1v1h-1zM727 291h1v1h-1zM729 291h1v1h-1zM275 292h1v1h-1zM280 292h1v1h-1zM315 292h1v1h-1zM473 292h1v1h-1zM641 292h1v1h-1zM643 292h1v1h-1zM727 292h1v1h-1zM729 292h1v1h-1zM275 293h1v1h-1zM280 293h1v1h-1zM315 293h1v1h-1zM472 293h1v1h-1zM641 293h1v1h-1zM643 293h1v1h-1zM727 293h1v1h-1zM729 293h1v1h-1zM275 294h1v1h-1zM280 294h1v1h-1zM315 294h1v1h-1zM471 294h1v1h-1zM641 294h1v1h-1zM643 294h1v1h-1zM727 294h1v1h-1zM729 294h1v1h-1zM275 295h1v1h-1zM280 295h1v1h-1zM315 295h1v1h-1zM470 295h1v1h-1zM641 295h1v1h-1zM643 295h1v1h-1zM727 295h1v1h-1zM729 295h1v1h-1zM275 296h1v1h-1zM280 296h1v1h-1zM315 296h1v1h-1zM469 296h1v1h-1zM641 296h1v1h-1zM643 296h1v1h-1zM727 296h1v1h-1zM729 296h1v1h-1zM275 297h1v1h-1zM280 297h1v1h-1zM315 297h1v1h-1zM468 297h1v1h-1zM641 297h1v1h-1zM643 297h1v1h-1zM727 297h1v1h-1zM729 297h1v1h-1zM275 298h1v1h-1zM280 298h1v1h-1zM315 298h1v1h-1zM467 298h1v1h-1zM641 298h1v1h-1zM643 298h1v1h-1zM727 298h1v1h-1zM729 298h1v1h-1zM275 299h1v1h-1zM280 299h1v1h-1zM315 299h1v1h-1zM466 299h1v1h-1zM641 299h1v1h-1zM643 299h1v1h-1zM727 299h1v1h-1zM729 299h1v1h-1zM275 300h1v1h-1zM280 300h1v1h-1zM315 300h1v1h-1zM465 300h1v1h-1zM641 300h1v1h-1zM643 300h1v1h-1zM727 300h1v1h-1zM729 300h1v1h-1zM275 301h1v1h-1zM280 301h1v1h-1zM315 301h1v1h-1zM464 301h1v1h-1zM641 301h1v1h-1zM643 301h1v1h-1zM727 301h1v1h-1zM729 301h1v1h-1zM275 302h1v1h-1zM280 302h1v1h-1zM315 302h1v1h-1zM463 302h1v1h-1zM641 302h1v1h-1zM643 302h1v1h-1zM727 302h1v1h-1zM729 302h1v1h-1zM275 303h1v1h-1zM280 303h1v1h-1zM315 303h1v1h-1zM462 303h1v1h-1zM641 303h1v1h-1zM643 303h1v1h-1zM727 303h1v1h-1zM729 303h1v1h-1zM275 304h1v1h-1zM280 304h1v1h-1zM315 304h1v1h-1zM461 304h1v1h-1zM641 304h1v1h-1zM643 304h1v1h-1zM727 304h1v1h-1zM729 304h1v1h-1zM275 305h1v1h-1zM280 305h1v1h-1zM315 305h1v1h-1zM460 305h1v1h-1zM641 305h1v1h-1zM643 305h1v1h-1zM727 305h1v1h-1zM729 305h1v1h-1zM275 306h1v1h-1zM280 306h1v1h-1zM315 306h1v1h-1zM459 306h1v1h-1zM641 306h1v1h-1zM643 306h1v1h-1zM727 306h1v1h-1zM729 306h1v1h-1zM275 307h1v1h-1zM280 307h1v1h-1zM315 307h1v1h-1zM458 307h1v1h-1zM641 307h1v1h-1zM643 307h1v1h-1zM727 307h1v1h-1zM729 307h1v1h-1zM275 308h1v1h-1zM280 308h1v1h-1zM315 308h1v1h-1zM457 308h1v1h-1zM641 308h1v1h-1zM643 308h1v1h-1zM727 308h1v1h-1zM729 308h1v1h-1zM275 309h1v1h-1zM280 309h1v1h-1zM315 309h1v1h-1zM456 309h1v1h-1zM642 309h2v1h-2zM727 309h1v1h-1zM729 309h1v1h-1zM275 310h1v1h-1zM280 310h1v1h-1zM315 310h1v1h-1zM455 310h1v1h-1zM642 310h1v1h-1zM727 310h1v1h-1zM729 310h1v1h-1zM275 311h1v1h-1zM280 311h1v1h-1zM315 311h1v1h-1zM454 311h1v1h-1zM642 311h1v1h-1zM727 311h1v1h-1zM729 311h1v1h-1zM275 312h1v1h-1zM280 312h1v1h-1zM315 312h1v1h-1zM453 312h1v1h-1zM642 312h1v1h-1zM727 312h1v1h-1zM729 312h1v1h-1zM275 313h1v1h-1zM280 313h1v1h-1zM315 313h1v1h-1zM452 313h1v1h-1zM642 313h1v1h-1zM727 313h1v1h-1zM729 313h1v1h-1zM275 314h1v1h-1zM280 314h1v1h-1zM315 314h1v1h-1zM451 314h1v1h-1zM642 314h1v1h-1zM727 314h1v1h-1zM729 314h1v1h-1zM275 315h1v1h-1zM280 315h1v1h-1zM315 315h1v1h-1zM450 315h1v1h-1zM642 315h1v1h-1zM727 315h1v1h-1zM729 315h1v1h-1zM275 316h1v1h-1zM280 316h1v1h-1zM315 316h1v1h-1zM449 316h1v1h-1zM642 316h1v1h-1zM727 316h1v1h-1zM729 316h1v1h-1zM275 317h1v1h-1zM280 317h1v1h-1zM315 317h1v1h-1zM448 317h1v1h-1zM642 317h1v1h-1zM727 317h1v1h-1zM729 317h1v1h-1zM275 318h1v1h-1zM280 318h1v1h-1zM315 318h1v1h-1zM447 318h1v1h-1zM642 318h1v1h-1zM727 318h1v1h-1zM729 318h1v1h-1zM275 319h1v1h-1zM280 319h1v1h-1zM315 319h1v1h-1zM446 319h1v1h-1zM642 319h1v1h-1zM727 319h1v1h-1zM729 319h1v1h-1zM275 320h1v1h-1zM280 320h1v1h-1zM315 320h1v1h-1zM445 320h1v1h-1zM642 320h1v1h-1zM727 320h1v1h-1zM729 320h1v1h-1zM275 321h1v1h-1zM280 321h1v1h-1zM315 321h1v1h-1zM444 321h1v1h-1zM642 321h1v1h-1zM727 321h1v1h-1zM729 321h1v1h-1zM275 322h1v1h-1zM280 322h1v1h-1zM315 322h1v1h-1zM443 322h1v1h-1zM642 322h1v1h-1zM727 322h1v1h-1zM729 322h1v1h-1zM275 323h1v1h-1zM280 323h1v1h-1zM315 323h1v1h-1zM442 323h1v1h-1zM642 323h1v1h-1zM727 323h1v1h-1zM729 323h1v1h-1zM275 324h1v1h-1zM280 324h1v1h-1zM315 324h1v1h-1zM441 324h1v1h-1zM642 324h1v1h-1zM727 324h1v1h-1zM729 324h1v1h-1zM275 325h1v1h-1zM280 325h1v1h-1zM315 325h1v1h-1zM440 325h1v1h-1zM642 325h1v1h-1zM727 325h1v1h-1zM729 325h1v1h-1zM275 326h1v1h-1zM280 326h1v1h-1zM315 326h1v1h-1zM439 326h1v1h-1zM642 326h1v1h-1zM727 326h1v1h-1zM729 326h1v1h-1zM275 327h1v1h-1zM280 327h1v1h-1zM315 327h1v1h-1zM438 327h1v1h-1zM642 327h1v1h-1zM727 327h1v1h-1zM729 327h1v1h-1zM275 328h1v1h-1zM280 328h1v1h-1zM315 328h1v1h-1zM438 328h1v1h-1zM642 328h1v1h-1zM727 328h1v1h-1zM729 328h1v1h-1zM275 329h1v1h-1zM280 329h1v1h-1zM315 329h1v1h-1zM437 329h1v1h-1zM642 329h1v1h-1zM727 329h1v1h-1zM729 329h1v1h-1zM275 330h1v1h-1zM280 330h1v1h-1zM315 330h1v1h-1zM436 330h1v1h-1zM642 330h1v1h-1zM727 330h1v1h-1zM729 330h1v1h-1zM275 331h1v1h-1zM280 331h1v1h-1zM315 331h1v1h-1zM435 331h1v1h-1zM642 331h1v1h-1zM727 331h1v1h-1zM729 331h1v1h-1zM275 332h1v1h-1zM280 332h1v1h-1zM315 332h1v1h-1zM434 332h1v1h-1zM642 332h1v1h-1zM727 332h1v1h-1zM729 332h1v1h-1zM275 333h1v1h-1zM280 333h1v1h-1zM315 333h1v1h-1zM433 333h1v1h-1zM642 333h1v1h-1zM727 333h1v1h-1zM729 333h1v1h-1zM275 334h1v1h-1zM280 334h1v1h-1zM315 334h1v1h-1zM432 334h1v1h-1zM642 334h1v1h-1zM727 334h1v1h-1zM729 334h1v1h-1zM275 335h1v1h-1zM280 335h1v1h-1zM315 335h1v1h-1zM431 335h1v1h-1zM642 335h1v1h-1zM727 335h1v1h-1zM729 335h1v1h-1zM275 336h1v1h-1zM280 336h1v1h-1zM315 336h1v1h-1zM430 336h1v1h-1zM642 336h1v1h-1zM727 336h1v1h-1zM729 336h1v1h-1zM276 337h1v1h-1zM280 337h1v1h-1zM315 337h1v1h-1zM429 337h1v1h-1zM642 337h1v1h-1zM727 337h1v1h-1zM729 337h1v1h-1zM276 338h1v1h-1zM279 338h1v1h-1zM315 338h1v1h-1zM428 338h1v1h-1zM642 338h1v1h-1zM727 338h1v1h-1zM729 338h1v1h-1zM276 339h1v1h-1zM279 339h1v1h-1zM315 339h1v1h-1zM427 339h1v1h-1zM642 339h1v1h-1zM727 339h1v1h-1zM729 339h1v1h-1zM276 340h1v1h-1zM279 340h1v1h-1zM315 340h1v1h-1zM426 340h1v1h-1zM642 340h1v1h-1zM727 340h1v1h-1zM729 340h1v1h-1zM276 341h1v1h-1zM279 341h1v1h-1zM315 341h1v1h-1zM425 341h1v1h-1zM642 341h1v1h-1zM727 341h1v1h-1zM729 341h1v1h-1zM276 342h1v1h-1zM279 342h1v1h-1zM315 342h1v1h-1zM424 342h1v1h-1zM642 342h1v1h-1zM727 342h1v1h-1zM729 342h1v1h-1zM276 343h1v1h-1zM279 343h1v1h-1zM315 343h1v1h-1zM423 343h1v1h-1zM642 343h1v1h-1zM727 343h1v1h-1zM729 343h1v1h-1zM276 344h1v1h-1zM279 344h1v1h-1zM315 344h1v1h-1zM422 344h1v1h-1zM642 344h1v1h-1zM727 344h1v1h-1zM729 344h1v1h-1zM276 345h1v1h-1zM279 345h1v1h-1zM315 345h1v1h-1zM421 345h1v1h-1zM642 345h1v1h-1zM727 345h1v1h-1zM729 345h1v1h-1zM276 346h1v1h-1zM279 346h1v1h-1zM315 346h1v1h-1zM420 346h1v1h-1zM642 346h1v1h-1zM727 346h1v1h-1zM729 346h1v1h-1zM276 347h1v1h-1zM279 347h1v1h-1zM315 347h1v1h-1zM419 347h1v1h-1zM642 347h1v1h-1zM727 347h1v1h-1zM729 347h1v1h-1zM276 348h1v1h-1zM279 348h1v1h-1zM315 348h1v1h-1zM418 348h1v1h-1zM642 348h1v1h-1zM727 348h1v1h-1zM729 348h1v1h-1zM276 349h1v1h-1zM279 349h1v1h-1zM315 349h1v1h-1zM417 349h1v1h-1zM642 349h1v1h-1zM727 349h1v1h-1zM729 349h1v1h-1zM276 350h1v1h-1zM279 350h1v1h-1zM315 350h1v1h-1zM416 350h1v1h-1zM642 350h1v1h-1zM727 350h1v1h-1zM729 350h1v1h-1zM276 351h1v1h-1zM279 351h1v1h-1zM315 351h1v1h-1zM415 351h1v1h-1zM642 351h1v1h-1zM727 351h1v1h-1zM729 351h1v1h-1zM276 352h1v1h-1zM279 352h1v1h-1zM315 352h1v1h-1zM414 352h1v1h-1zM642 352h1v1h-1zM728 352h2v1h-2zM276 353h1v1h-1zM279 353h1v1h-1zM315 353h1v1h-1zM413 353h1v1h-1zM642 353h1v1h-1zM728 353h1v1h-1zM276 354h1v1h-1zM279 354h1v1h-1zM315 354h1v1h-1zM412 354h1v1h-1zM642 354h1v1h-1zM728 354h1v1h-1zM276 355h1v1h-1zM279 355h1v1h-1zM315 355h1v1h-1zM411 355h1v1h-1zM642 355h1v1h-1zM728 355h1v1h-1zM276 356h1v1h-1zM279 356h1v1h-1zM315 356h1v1h-1zM410 356h1v1h-1zM642 356h1v1h-1zM728 356h1v1h-1zM276 357h1v1h-1zM279 357h1v1h-1zM315 357h1v1h-1zM409 357h1v1h-1zM642 357h1v1h-1zM728 357h1v1h-1zM276 358h1v1h-1zM279 358h1v1h-1zM315 358h1v1h-1zM408 358h1v1h-1zM642 358h1v1h-1zM728 358h1v1h-1zM276 359h1v1h-1zM279 359h1v1h-1zM315 359h1v1h-1zM407 359h1v1h-1zM642 359h1v1h-1zM728 359h1v1h-1zM276 360h1v1h-1zM279 360h1v1h-1zM315 360h1v1h-1zM406 360h1v1h-1zM642 360h1v1h-1zM728 360h1v1h-1zM276 361h1v1h-1zM279 361h1v1h-1zM315 361h1v1h-1zM405 361h1v1h-1zM642 361h1v1h-1zM728 361h1v1h-1zM276 362h1v1h-1zM279 362h1v1h-1zM315 362h1v1h-1zM404 362h1v1h-1zM642 362h1v1h-1zM728 362h1v1h-1zM276 363h1v1h-1zM279 363h1v1h-1zM315 363h1v1h-1zM403 363h1v1h-1zM642 363h1v1h-1zM728 363h1v1h-1zM276 364h1v1h-1zM279 364h1v1h-1zM315 364h1v1h-1zM403 364h1v1h-1zM642 364h1v1h-1zM728 364h1v1h-1zM276 365h1v1h-1zM279 365h1v1h-1zM315 365h1v1h-1zM402 365h1v1h-1zM642 365h1v1h-1zM728 365h1v1h-1zM276 366h1v1h-1zM279 366h1v1h-1zM315 366h1v1h-1zM401 366h1v1h-1zM642 366h1v1h-1zM728 366h1v1h-1zM276 367h1v1h-1zM279 367h1v1h-1zM315 367h1v1h-1zM400 367h1v1h-1zM642 367h1v1h-1zM728 367h1v1h-1zM276 368h1v1h-1zM279 368h1v1h-1zM315 368h1v1h-1zM399 368h1v1h-1zM642 368h1v1h-1zM728 368h1v1h-1zM276 369h1v1h-1zM279 369h1v1h-1zM315 369h1v1h-1zM398 369h1v1h-1zM642 369h1v1h-1zM728 369h1v1h-1zM276 370h1v1h-1zM279 370h1v1h-1zM315 370h1v1h-1zM397 370h1v1h-1zM642 370h1v1h-1zM728 370h1v1h-1zM276 371h1v1h-1zM279 371h1v1h-1zM315 371h1v1h-1zM396 371h1v1h-1zM642 371h1v1h-1zM728 371h1v1h-1zM276 372h1v1h-1zM279 372h1v1h-1zM315 372h1v1h-1zM395 372h1v1h-1zM642 372h1v1h-1zM728 372h1v1h-1zM276 373h1v1h-1zM279 373h1v1h-1zM315 373h1v1h-1zM394 373h1v1h-1zM642 373h1v1h-1zM728 373h1v1h-1zM276 374h1v1h-1zM279 374h1v1h-1zM315 374h1v1h-1zM393 374h1v1h-1zM642 374h1v1h-1zM728 374h1v1h-1zM276 375h1v1h-1zM279 375h1v1h-1zM315 375h1v1h-1zM392 375h1v1h-1zM642 375h1v1h-1zM728 375h1v1h-1zM276 376h1v1h-1zM279 376h1v1h-1zM315 376h1v1h-1zM391 376h1v1h-1zM642 376h1v1h-1zM728 376h1v1h-1zM276 377h1v1h-1zM279 377h1v1h-1zM315 377h1v1h-1zM390 377h1v1h-1zM642 377h1v1h-1zM728 377h1v1h-1zM276 378h1v1h-1zM279 378h1v1h-1zM315 378h1v1h-1zM389 378h1v1h-1zM642 378h1v1h-1zM728 378h1v1h-1zM276 379h1v1h-1zM279 379h1v1h-1zM315 379h1v1h-1zM388 379h1v1h-1zM642 379h1v1h-1zM728 379h1v1h-1zM276 380h1v1h-1zM279 380h1v1h-1zM315 380h1v1h-1zM387 380h1v1h-1zM642 380h1v1h-1zM728 380h1v1h-1zM276 381h1v1h-1zM279 381h1v1h-1zM315 381h1v1h-1zM386 381h1v1h-1zM642 381h1v1h-1zM728 381h1v1h-1zM276 382h1v1h-1zM279 382h1v1h-1zM315 382h1v1h-1zM385 382h1v1h-1zM642 382h1v1h-1zM728 382h1v1h-1zM276 383h1v1h-1zM279 383h1v1h-1zM315 383h1v1h-1zM384 383h1v1h-1zM642 383h1v1h-1zM728 383h1v1h-1zM276 384h1v1h-1zM278 384h1v1h-1zM315 384h1v1h-1zM383 384h1v1h-1zM642 384h1v1h-1zM728 384h1v1h-1zM276 385h1v1h-1zM278 385h1v1h-1zM315 385h1v1h-1zM382 385h1v1h-1zM642 385h1v1h-1zM728 385h1v1h-1zM276 386h1v1h-1zM278 386h1v1h-1zM315 386h1v1h-1zM381 386h1v1h-1zM642 386h1v1h-1zM728 386h1v1h-1zM276 387h1v1h-1zM278 387h1v1h-1zM315 387h1v1h-1zM380 387h1v1h-1zM642 387h1v1h-1zM728 387h1v1h-1zM276 388h1v1h-1zM278 388h1v1h-1zM315 388h1v1h-1zM379 388h1v1h-1zM642 388h1v1h-1zM728 388h1v1h-1zM276 389h1v1h-1zM278 389h1v1h-1zM315 389h1v1h-1zM378 389h1v1h-1zM642 389h1v1h-1zM728 389h1v1h-1zM276 390h1v1h-1zM278 390h1v1h-1zM315 390h1v1h-1zM377 390h1v1h-1zM642 390h1v1h-1zM728 390h1v1h-1zM276 391h1v1h-1zM278 391h1v1h-1zM315 391h1v1h-1zM376 391h1v1h-1zM642 391h1v1h-1zM728 391h1v1h-1zM276 392h1v1h-1zM278 392h1v1h-1zM315 392h1v1h-1zM375 392h1v1h-1zM642 392h1v1h-1zM728 392h1v1h-1zM276 393h1v1h-1zM278 393h1v1h-1zM315 393h1v1h-1zM374 393h1v1h-1zM642 393h1v1h-1zM728 393h1v1h-1zM276 394h1v1h-1zM278 394h1v1h-1zM315 394h1v1h-1zM373 394h1v1h-1zM642 394h1v1h-1zM728 394h1v1h-1zM276 395h1v1h-1zM278 395h1v1h-1zM316 395h1v1h-1zM372 395h1v1h-1zM642 395h1v1h-1zM728 395h1v1h-1zM276 396h1v1h-1zM278 396h1v1h-1zM316 396h1v1h-1zM371 396h1v1h-1zM642 396h1v1h-1zM728 396h1v1h-1zM276 397h1v1h-1zM278 397h1v1h-1zM316 397h1v1h-1zM370 397h1v1h-1zM642 397h1v1h-1zM728 397h1v1h-1zM276 398h1v1h-1zM278 398h1v1h-1zM316 398h1v1h-1zM369 398h1v1h-1zM642 398h1v1h-1zM728 398h1v1h-1zM276 399h1v1h-1zM278 399h1v1h-1zM316 399h1v1h-1zM368 399h1v1h-1zM642 399h1v1h-1zM728 399h1v1h-1zM276 400h1v1h-1zM278 400h1v1h-1zM316 400h1v1h-1zM368 400h1v1h-1zM642 400h1v1h-1zM728 400h1v1h-1zM276 401h1v1h-1zM278 401h1v1h-1zM316 401h1v1h-1zM367 401h1v1h-1zM642 401h1v1h-1zM728 401h1v1h-1zM276 402h1v1h-1zM278 402h1v1h-1zM316 402h1v1h-1zM366 402h1v1h-1zM642 402h1v1h-1zM728 402h1v1h-1zM276 403h1v1h-1zM278 403h1v1h-1zM316 403h1v1h-1zM365 403h1v1h-1zM642 403h1v1h-1zM728 403h1v1h-1zM276 404h1v1h-1zM278 404h1v1h-1zM316 404h1v1h-1zM364 404h1v1h-1zM642 404h1v1h-1zM728 404h1v1h-1zM276 405h1v1h-1zM278 405h1v1h-1zM316 405h1v1h-1zM363 405h1v1h-1zM642 405h1v1h-1zM728 405h1v1h-1zM276 406h1v1h-1zM278 406h1v1h-1zM316 406h1v1h-1zM362 406h1v1h-1zM642 406h1v1h-1zM728 406h1v1h-1zM276 407h1v1h-1zM278 407h1v1h-1zM316 407h1v1h-1zM361 407h1v1h-1zM642 407h1v1h-1zM728 407h1v1h-1zM276 408h1v1h-1zM278 408h1v1h-1zM316 408h1v1h-1zM360 408h1v1h-1zM642 408h1v1h-1zM728 408h1v1h-1zM276 409h1v1h-1zM278 409h1v1h-1zM316 409h1v1h-1zM359 409h1v1h-1zM642 409h1v1h-1zM728 409h1v1h-1zM276 410h1v1h-1zM278 410h1v1h-1zM316 410h1v1h-1zM358 410h1v1h-1zM642 410h1v1h-1zM728 410h1v1h-1zM276 411h1v1h-1zM278 411h1v1h-1zM316 411h1v1h-1zM357 411h1v1h-1zM642 411h1v1h-1zM728 411h1v1h-1zM276 412h1v1h-1zM278 412h1v1h-1zM316 412h1v1h-1zM356 412h1v1h-1zM642 412h1v1h-1zM728 412h1v1h-1zM276 413h1v1h-1zM278 413h1v1h-1zM316 413h1v1h-1zM355 413h1v1h-1zM642 413h1v1h-1zM728 413h1v1h-1zM276 414h1v1h-1zM278 414h1v1h-1zM316 414h1v1h-1zM354 414h1v1h-1zM642 414h1v1h-1zM728 414h1v1h-1zM276 415h1v1h-1zM278 415h1v1h-1zM316 415h1v1h-1zM353 415h1v1h-1zM642 415h1v1h-1zM728 415h1v1h-1zM276 416h1v1h-1zM278 416h1v1h-1zM316 416h1v1h-1zM352 416h1v1h-1zM642 416h1v1h-1zM728 416h1v1h-1zM276 417h1v1h-1zM278 417h1v1h-1zM316 417h1v1h-1zM351 417h1v1h-1zM642 417h1v1h-1zM728 417h1v1h-1zM276 418h1v1h-1zM278 418h1v1h-1zM316 418h1v1h-1zM350 418h1v1h-1zM642 418h1v1h-1zM728 418h1v1h-1zM276 419h1v1h-1zM278 419h1v1h-1zM316 419h1v1h-1zM349 419h1v1h-1zM642 419h1v1h-1zM728 419h1v1h-1zM276 420h1v1h-1zM278 420h1v1h-1zM316 420h1v1h-1zM348 420h1v1h-1zM642 420h1v1h-1zM728 420h1v1h-1zM276 421h1v1h-1zM278 421h1v1h-1zM316 421h1v1h-1zM347 421h1v1h-1zM642 421h1v1h-1zM728 421h1v1h-1zM276 422h1v1h-1zM278 422h1v1h-1zM316 422h1v1h-1zM346 422h1v1h-1zM642 422h1v1h-1zM728 422h1v1h-1zM276 423h1v1h-1zM278 423h1v1h-1zM316 423h1v1h-1zM345 423h1v1h-1zM642 423h1v1h-1zM728 423h1v1h-1zM276 424h1v1h-1zM278 424h1v1h-1zM316 424h1v1h-1zM344 424h1v1h-1zM642 424h1v1h-1zM728 424h1v1h-1zM276 425h1v1h-1zM278 425h1v1h-1zM316 425h1v1h-1zM343 425h1v1h-1zM642 425h1v1h-1zM728 425h1v1h-1zM276 426h1v1h-1zM278 426h1v1h-1zM316 426h1v1h-1zM342 426h1v1h-1zM642 426h1v1h-1zM728 426h1v1h-1zM276 427h1v1h-1zM278 427h1v1h-1zM316 427h1v1h-1zM341 427h1v1h-1zM642 427h1v1h-1zM728 427h1v1h-1zM276 428h1v1h-1zM278 428h1v1h-1zM316 428h1v1h-1zM340 428h1v1h-1zM642 428h1v1h-1zM728 428h1v1h-1zM276 429h1v1h-1zM278 429h1v1h-1zM316 429h1v1h-1zM339 429h1v1h-1zM642 429h1v1h-1zM728 429h1v1h-1zM276 430h2v1h-2zM316 430h1v1h-1zM338 430h1v1h-1zM642 430h1v1h-1zM728 430h1v1h-1zM276 431h2v1h-2zM316 431h1v1h-1zM337 431h1v1h-1zM642 431h1v1h-1zM728 431h1v1h-1zM276 432h2v1h-2zM316 432h1v1h-1zM336 432h1v1h-1zM642 432h1v1h-1zM728 432h1v1h-1zM276 433h2v1h-2zM316 433h1v1h-1zM335 433h1v1h-1zM642 433h1v1h-1zM728 433h1v1h-1zM276 434h2v1h-2zM316 434h1v1h-1zM334 434h1v1h-1zM642 434h1v1h-1zM728 434h1v1h-1zM276 435h2v1h-2zM316 435h1v1h-1zM333 435h1v1h-1zM642 435h1v1h-1zM728 435h1v1h-1zM276 436h2v1h-2zM316 436h1v1h-1zM333 436h1v1h-1zM642 436h1v1h-1zM728 436h1v1h-1zM276 437h2v1h-2zM316 437h1v1h-1zM332 437h1v1h-1zM642 437h1v1h-1zM728 437h1v1h-1zM276 438h2v1h-2zM316 438h1v1h-1zM331 438h1v1h-1zM642 438h1v1h-1zM728 438h1v1h-1zM276 439h2v1h-2zM316 439h1v1h-1zM330 439h1v1h-1zM642 439h1v1h-1zM728 439h1v1h-1zM276 440h2v1h-2zM316 440h1v1h-1zM329 440h1v1h-1zM642 440h1v1h-1zM728 440h1v1h-1zM276 441h2v1h-2zM316 441h1v1h-1zM328 441h1v1h-1zM642 441h1v1h-1zM728 441h1v1h-1zM276 442h2v1h-2zM316 442h1v1h-1zM327 442h1v1h-1zM642 442h1v1h-1zM728 442h1v1h-1zM276 443h2v1h-2zM316 443h1v1h-1zM326 443h1v1h-1zM642 443h1v1h-1zM728 443h1v1h-1zM276 444h2v1h-2zM316 444h1v1h-1zM325 444h1v1h-1zM642 444h1v1h-1zM728 444h1v1h-1zM276 445h2v1h-2zM316 445h1v1h-1zM324 445h1v1h-1zM642 445h1v1h-1zM728 445h1v1h-1zM276 446h2v1h-2zM316 446h1v1h-1zM323 446h1v1h-1zM642 446h1v1h-1zM728 446h1v1h-1zM276 447h2v1h-2zM316 447h1v1h-1zM322 447h1v1h-1zM642 447h1v1h-1zM728 447h1v1h-1zM276 448h2v1h-2zM316 448h1v1h-1zM321 448h1v1h-1zM642 448h1v1h-1zM728 448h1v1h-1zM276 449h2v1h-2zM316 449h1v1h-1zM320 449h1v1h-1zM642 449h1v1h-1zM728 449h1v1h-1zM276 450h2v1h-2zM316 450h1v1h-1zM319 450h1v1h-1zM642 450h1v1h-1zM728 450h1v1h-1zM276 451h2v1h-2zM316 451h1v1h-1zM318 451h1v1h-1zM642 451h1v1h-1zM728 451h1v1h-1zM276 452h2v1h-2zM316 452h2v1h-2zM642 452h1v1h-1zM728 452h1v1h-1zM273 453h8v1h-8zM313 453h7v1h-7zM639 453h7v1h-7zM725 453h7v1h-7zM276 454h2v1h-2zM316 454h1v1h-1zM642 454h1v1h-1zM728 454h1v1h-1zM276 455h2v1h-2zM316 455h1v1h-1zM642 455h1v1h-1zM728 455h1v1h-1zM276 456h2v1h-2zM316 456h1v1h-1zM642 456h1v1h-1zM728 456h1v1h-1z" fill="#f00"/><path d="M82.5 38.5H779.5V453.5H82.5Z" fill="none" stroke="#000" stroke-width="1"/><path d="M82 453.5h5M779 453.5h-5M82 401.5h5M779 401.5h-5M82 349.5h5M779 349.5h-5M82 297.5h5M779 297.5h-5M82 245.5h5M779 245.5h-5M82 194.5h5M779 194.5h-5M82 142.5h5M779 142.5h-5M82 90.5h5M779 90.5h-5M82 38.5h5M779 38.5h-5M82.5 453v-4M82.5 39v4M92.5 453v-2M92.5 39v2M101.5 453v-2M101.5 39v2M111.5 453v-2M111.5 39v2M120.5 453v-2M120.5 39v2M130.5 453v-2M130.5 39v2M140.5 453v-4M140.5 39v4M150.5 453v-2M150.5 39v2M159.5 453v-2M159.5 39v2M169.5 453v-2M169.5 39v2M178.5 453v-2M178.5 39v2M188.5 453v-2M188.5 39v2M198.5 453v-4M198.5 39v4M208.5 453v-2M208.5 39v2M217.5 453v-2M217.5 39v2M227.5 453v-2M227.5 39v2M236.5 453v-2M236.5 39v2M246.5 453v-2M246.5 39v2M256.5 453v-4M256.5 39v4M266.5 453v-2M266.5 39v2M275.5 453v-2M275.5 39v2M285.5 453v-2M285.5 39v2M294.5 453v-2M294.5 39v2M304.5 453v-2M304.5 39v2M314.5 453v-4M314.5 39v4M324.5 453v-2M324.5 39v2M333.5 453v-2M333.5 39v2M343.5 453v-2M343.5 39v2M352.5 453v-2M352.5 39v2M362.5 453v-2M362.5 39v2M372.5 453v-4M372.5 39v4M382.5 453v-2M382.5 39v2M391.5 453v-2M391.5 39v2M401.5 453v-2M401.5 39v2M410.5 453v-2M410.5 39v2M420.5 453v-2M420.5 39v2M431.5 453v-4M431.5 39v4M441.5 453v-2M441.5 39v2M450.5 453v-2M450.5 39v2M460.5 453v-2M460.5 39v2M469.5 453v-2M469.5 39v2M479.5 453v-2M479.5 39v2M489.5 453v-4M489.5 39v4M499.5 453v-2M499.5 39v2M508.5 453v-2M508.5 39v2M518.5 453v-2M518.5 39v2M527.5 453v-2M527.5 39v2M537.5 453v-2M537.5 39v2M547.5 453v-4M547.5 39v4M557.5 453v-2M557.5 39v2M566.5 453v-2M566.5 39v2M576.5 453v-2M576.5 39v2M585.5 453v-2M585.5 39v2M595.5 453v-2M595.5 39v2M603.5 453v-4M603.5 39v4M613.5 453v-2M613.5 39v2M622.5 453v-2M622.5 39v2M632.5 453v-2M632.5 39v2M641.5 453v-2M641.5 39v2M651.5 453v-2M651.5 39v2M661.5 453v-4M661.5 39v4M671.5 453v-2M671.5 39v2M680.5 453v-2M680.5 39v2M690.5 453v-2M690.5 39v2M699.5 453v-2M699.5 39v2M709.5 453v-2M709.5 39v2M720.5 453v-4M720.5 39v4M730.5 453v-2M730.5 39v2M739.5 453v-2M739.5 39v2M749.5 453v-2M749.5 39v2M758.5 453v-2M758.5 39v2M768.5 453v-2M768.5 39v2M779.5 453v-4M779.5 39v4" stroke="#000" stroke-width="1" fill="none"/><defs><filter id="crisp" x="0" y="0" width="800" height="480" filterUnits="userSpaceOnUse"><feComponentTransfer><feFuncA type="discrete" tableValues="0 1"/></feComponentTransfer></filter></defs><g filter="url(#crisp)" font-family="Liberation Mono" font-weight="bold" font-size="12px" letter-spacing="-0.2" fill="#000" stroke="#000" stroke-width="0.2"><text x="74" y="458.6" text-anchor="end">0</text><text x="74" y="406.6" text-anchor="end">100000</text><text x="74" y="354.6" text-anchor="end">200000</text><text x="74" y="302.6" text-anchor="end">300000</text><text x="74" y="250.6" text-anchor="end">400000</text><text x="74" y="199.6" text-anchor="end">500000</text><text x="74" y="147.6" text-anchor="end">600000</text><text x="74" y="95.6" text-anchor="end">700000</text><text x="74" y="43.6" text-anchor="end">800000</text><text x="81.2" y="471.6" text-anchor="middle">09/01/07</text><text x="139.2" y="471.6" text-anchor="middle">11/01/07</text><text x="197.2" y="471.6" text-anchor="middle">01/01/08</text><text x="255.2" y="471.6" text-anchor="middle">03/01/08</text><text x="313.2" y="471.6" text-anchor="middle">05/01/08</text><text x="371.2" y="471.6" text-anchor="middle">07/01/08</text><text x="430.2" y="471.6" text-anchor="middle">09/01/08</text><text x="488.2" y="471.6" text-anchor="middle">11/01/08</text><text x="546.2" y="471.6" text-anchor="middle">01/01/09</text><text x="602.2" y="471.6" text-anchor="middle">03/01/09</text><text x="660.2" y="471.6" text-anchor="middle">05/01/09</text><text x="719.2" y="471.6" text-anchor="middle">07/01/09</text><text x="778.2" y="471.6" text-anchor="middle">09/01/09</text><text x="430" y="22.9" text-anchor="middle">Memory usage for -O -g for pr12392.cpp</text><text x="88" y="53">pr12392.cpp</text><text transform="translate(17.2 248) rotate(-90)" text-anchor="middle">kB</text></g><path d="M173 48.5H206M189.5 45V52" stroke="#f00" fill="none"/>
</svg></body></html>
